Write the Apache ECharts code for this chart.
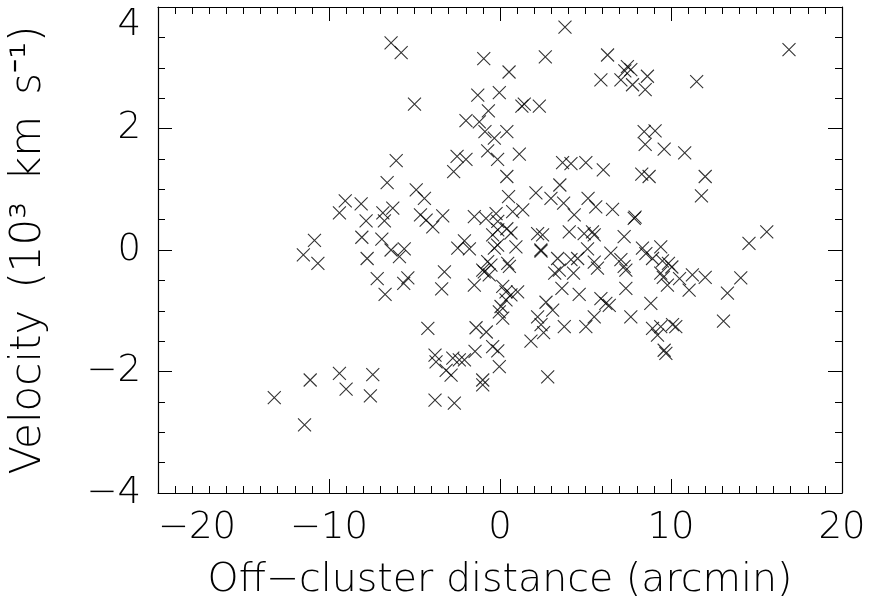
<!DOCTYPE html>
<html>
<head>
<meta charset="utf-8">
<script src="https://cdn.jsdelivr.net/npm/echarts@6/dist/echarts.min.js"></script>
<style>
html,body{margin:0;padding:0;background:#fff;}
#chart{width:870px;height:615px;}
</style>
</head>
<body>
<div id="chart"></div>
<script>
// Off-cluster distance (arcmin)
const xVals = [
 3.8,-6.37,-5.78,-0.95,0.53,2.65,6.29,7.45,7.65,7.3,
 5.9,7.07,7.75,8.62,8.49,16.9,11.5,-5.0,-1.3,-0.04,
 -0.68,-1.99,-1.21,-0.88,-0.33,0.4,-0.72,-0.14,1.42,1.28,
 2.3,1.13,-6.07,-2.51,-1.99,3.66,4.15,5.02,6.04,8.43,
 9.07,8.49,9.6,10.8,0.4,-2.71,8.29,8.72,12.0,11.78,
 -6.6,-4.9,-4.42,0.5,2.1,2.98,3.5,3.72,5.15,5.6,
 6.58,4.34,0.74,1.33,7.85,7.9,-9.05,-9.39,-8.12,-7.83,
 -6.85,-6.27,-6.76,-8.08,-6.91,-4.65,-4.32,-3.93,-3.35,-1.5,
 -0.82,-0.23,-0.13,-0.13,-0.43,0.4,0.64,-2.08,-2.47,-1.79,
 -0.33,-0.14,0.93,2.2,2.49,2.39,4.05,4.92,5.41,5.51,
 7.26,8.33,9.4,15.6,14.56,-10.85,-6.37,-5.6,5.12,6.48,
 -11.5,-10.65,-11.1,-13.2,-11.43,-9.39,-9.0,-7.44,-7.58,-7.77,
 -5.88,-7.18,-5.63,-5.39,-6.72,-3.25,-3.41,-4.22,-1.5,-1.01,
 -0.72,-0.53,-0.92,-0.63,0.45,0.55,0.16,0.35,0.64,1.03,
 0.35,0.06,-0.04,0.16,-1.4,-0.8,-0.43,-0.13,-0.04,-3.8,
 -3.74,-3.15,-2.86,-2.76,-2.38,-2.08,-1.46,-1.01,-1.01,-3.8,
 -2.67,2.4,3.37,4.15,4.54,5.51,5.7,7.07,7.26,7.36,
 8.53,8.92,9.5,9.85,10.05,9.4,9.55,10.5,11.25,12.0,
 11.06,14.08,13.3,13.07,3.2,3.47,4.3,3.62,4.63,2.69,
 3.08,2.2,2.4,2.55,1.81,3.76,5.02,5.51,5.9,6.19,
 6.39,7.36,7.65,8.82,8.92,9.21,9.4,10.09,10.28,9.6,
 9.7,2.79,9.79
];
// Velocity (10^3 km/s)
const yVals = [
 3.67,3.41,3.25,3.15,2.93,3.18,3.21,3.02,2.97,2.95,
 2.8,2.8,2.72,2.86,2.64,3.30,2.77,2.40,2.55,2.59,
 2.29,2.13,2.11,1.95,1.84,1.95,1.63,1.49,2.40,2.37,
 2.37,1.58,1.47,1.54,1.49,1.44,1.42,1.44,1.32,1.95,
 1.96,1.74,1.66,1.60,1.21,1.29,1.25,1.21,1.21,0.89,
 1.11,0.99,0.85,0.88,0.94,0.85,1.07,0.77,0.85,0.71,
 0.67,0.58,0.63,0.66,0.52,0.54,0.81,0.61,0.76,0.48,
 0.61,0.69,0.48,0.21,0.18,0.58,0.49,0.38,0.56,0.55,
 0.52,0.60,0.47,0.33,0.25,0.35,0.28,0.15,0.03,0.02,
 0.03,0.08,0.05,0.27,0.25,0.0,0.30,0.27,0.30,0.25,
 0.22,0.03,0.05,0.30,0.11,0.16,0.0,0.02,0.02,-0.05,
 -0.08,-0.22,-2.14,-2.43,-2.88,-2.03,-2.29,-2.05,-2.40,-0.14,
 -0.11,-0.47,-0.55,-0.46,-0.73,-0.36,-0.64,-1.29,-0.58,-0.33,
 -0.19,-0.25,-0.36,-0.41,-0.22,-0.27,-0.6,-0.69,-0.74,-0.69,
 -0.82,-0.93,-1.02,-1.12,-1.28,-1.35,-1.59,-1.66,-1.92,-1.73,
 -1.84,-1.98,-2.06,-1.78,-1.81,-1.81,-1.67,-2.14,-2.22,-2.47,
 -2.52,-0.02,-0.14,-0.16,-0.14,-0.20,-0.30,-0.16,-0.27,-0.33,
 -0.06,-0.14,-0.18,-0.22,-0.28,-0.38,-0.45,-0.47,-0.41,-0.45,
 -0.66,-0.46,-0.71,-1.17,-0.38,-0.33,-0.38,-0.63,-0.73,-0.86,
 -0.99,-1.10,-1.23,-1.36,-1.50,-1.26,-1.26,-1.10,-0.80,-0.88,
 -0.91,-0.63,-1.10,-0.88,-1.29,-1.40,-1.26,-1.23,-1.26,-1.65,
 -1.70,-2.09,-0.58
];
const xTicks = [-20, -10, 0, 10, 20];
const yTicks = [-4, -2, 0, 2, 4];
const xTitle = 'Off\u2212cluster distance (arcmin)';
const yTitle = 'Velocity\u2002(10\u00B3\u2002km\u2002s\u207B\u00B9)';

const points = xVals.map((x, i) => [x, yVals[i]]);
const FONT = "'DejaVu Sans', sans-serif";
const fmt = v => (v < 0 ? '\u2212' + Math.abs(v) : String(v));

function xAxisCfg(pos, main) {
  return {
    type: 'value', position: pos,
    min: xTicks[0], max: xTicks[xTicks.length - 1], interval: xTicks[1] - xTicks[0],
    axisLine: { show: true, onZero: false, lineStyle: { color: '#000', width: 1.2 } },
    axisTick: { show: true, inside: true, length: 14, lineStyle: { color: '#000', width: 1 } },
    minorTick: { show: true, splitNumber: 10, length: 7, lineStyle: { color: '#000', width: 1 } },
    splitLine: { show: false }, minorSplitLine: { show: false },
    axisLabel: main ? { show: true, formatter: fmt, margin: 17, color: '#000', fontFamily: FONT, fontWeight: 200, fontSize: 37,
      alignMinLabel: 'left' } : { show: false },
    name: main ? xTitle : '', nameLocation: 'middle', nameGap: 68,
    nameTextStyle: { color: '#000', fontFamily: FONT, fontWeight: 200, fontSize: 39.5 }
  };
}
function yAxisCfg(pos, main) {
  return {
    type: 'value', position: pos,
    min: yTicks[0], max: yTicks[yTicks.length - 1], interval: yTicks[1] - yTicks[0],
    axisLine: { show: true, onZero: false, lineStyle: { color: '#000', width: 1.2 } },
    axisTick: { show: true, inside: true, length: 14, lineStyle: { color: '#000', width: 1 } },
    minorTick: { show: true, splitNumber: 4, length: 7, lineStyle: { color: '#000', width: 1 } },
    splitLine: { show: false }, minorSplitLine: { show: false },
    axisLabel: main ? { show: true, formatter: fmt, margin: 17, color: '#000', fontFamily: FONT, fontWeight: 200, fontSize: 37,
      verticalAlignMaxLabel: 'top' } : { show: false },
    name: main ? yTitle : '', nameLocation: 'middle', nameGap: 108, nameRotate: 90,
    nameTextStyle: { color: '#000', fontFamily: FONT, fontWeight: 200, fontSize: 42 }
  };
}

const chart = echarts.init(document.getElementById('chart'), null, { renderer: 'canvas' });
chart.setOption({
  animation: false,
  backgroundColor: '#fff',
  grid: { left: 157, right: 28, top: 7, bottom: 122, containLabel: false },
  xAxis: [xAxisCfg('bottom', true), xAxisCfg('top', false)],
  yAxis: [yAxisCfg('left', true), yAxisCfg('right', false)],
  series: [{
    type: 'scatter',
    xAxisIndex: 0, yAxisIndex: 0,
    data: points,
    symbol: 'path://M0,0L10,10M10,0L0,10',
    symbolSize: 13,
    itemStyle: { color: 'none', borderColor: '#000', borderWidth: 1.1 }
  }]
});
</script>
</body>
</html>
